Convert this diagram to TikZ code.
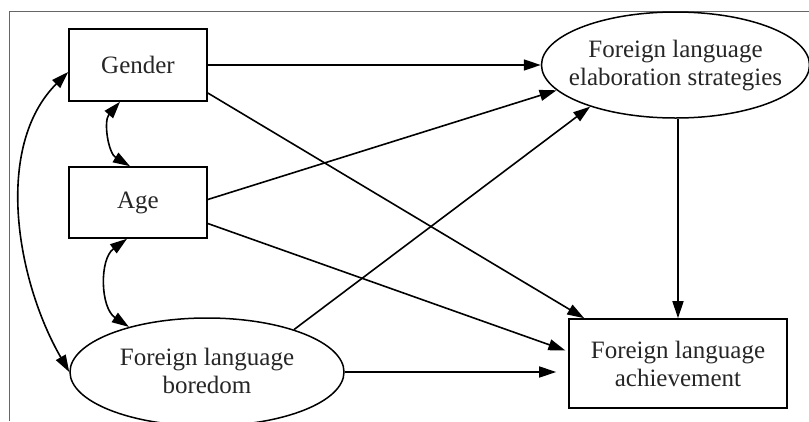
\documentclass[tikz,border=0pt]{standalone}
\usepackage{fontspec}
\setmainfont{Liberation Serif}
\usetikzlibrary{arrows.meta,shapes.geometric}
\begin{document}
\begin{tikzpicture}[x=1pt,y=-1pt,
  lbl/.style={font=\fontsize{25}{28}\selectfont, text=black!85, align=center, inner sep=0pt},
  box/.style={draw, line width=1.6pt, rectangle, inner sep=0pt, lbl},
  oval/.style={draw, line width=1.5pt, ellipse, inner sep=0pt},
  arr/.style={line width=1.6pt, -{Triangle[length=17pt,width=11pt]}},
  dbl/.style={line width=1.6pt, {Triangle[length=17pt,width=11pt]}-{Triangle[length=17pt,width=11pt]}}]
\useasboundingbox (0,0) rectangle (809,421);
% frame
\draw[black!60, line width=0.9pt] (9,421) -- (9,11) -- (809,11);
% nodes
\node[box, minimum width=138pt, minimum height=72pt] (gender) at (138,65) {Gender};
\node[box, minimum width=138pt, minimum height=71pt] (age) at (138,202.5) {Age};
\node[oval, minimum width=274pt, minimum height=108pt] (bore) at (207,372) {};
\node[lbl] (boreT) at (207,371) {Foreign language\\boredom};
\node[oval, minimum width=268pt, minimum height=106pt] (elab) at (675.5,65) {};
\node[lbl] (elabT) at (675.5,66) {Foreign language\\elaboration strategies};
\node[box, minimum width=218pt, minimum height=89pt] (ach) at (678,363.5) {Foreign language\\achievement};
% paths
\draw[arr] (gender.east) -- (elab.west);
\draw[arr] ([yshift=-28pt]gender.east) -- ([xshift=16pt]ach.north west);
\draw[arr] ([yshift=3pt]age.east) -- (elab.192);
\draw[arr, shorten >=3pt] ([yshift=-21pt]age.east) -- ([yshift=12pt]ach.west);
\draw[arr] (bore.26) -- (elab.206);
\draw[arr, shorten >=12pt] (bore.east) -- (bore.east -| ach.west);
\draw[arr] (ach.north |- elab.south) -- (ach.north);
% covariances
\draw[dbl] ([xshift=-18pt]gender.south) to[bend right=50] ([xshift=-8pt]age.north);
\draw[dbl] ([xshift=-11pt]age.south) to[bend right=55] (bore.150);
\draw[dbl] ([yshift=-7pt]gender.west) to[out=225, in=120, looseness=0.9] (bore.west);
\end{tikzpicture}
\end{document}
